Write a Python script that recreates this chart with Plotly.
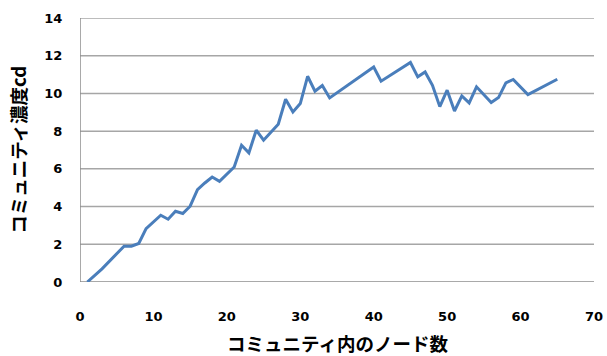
import plotly.graph_objects as go

# Number of nodes in a community vs. community density cd
node_counts = [1, 3, 6, 7, 8, 9, 11, 12, 13, 14, 15, 16, 17, 18, 19, 21, 22, 23, 24, 25,
               27, 28, 29, 30, 31, 32, 33, 34, 40, 41, 45, 46, 47, 48, 49, 50, 51, 52,
               53, 54, 56, 57, 58, 59, 61, 65]
density_cd = [0.0, 0.7, 1.9, 1.9, 2.04, 2.83, 3.54, 3.33, 3.75, 3.63, 4.02, 4.9, 5.25, 5.57,
              5.34, 6.1, 7.25, 6.85, 8.05, 7.52, 8.37, 9.69, 9.02, 9.46, 10.91, 10.12,
              10.42, 9.76, 11.4, 10.65, 11.64, 10.88, 11.14, 10.43, 9.3, 10.17, 9.07,
              9.87, 9.5, 10.35, 9.52, 9.78, 10.56, 10.74, 9.94, 10.75]

x_ticks = [0, 10, 20, 30, 40, 50, 60, 70]
y_ticks = [0, 2, 4, 6, 8, 10, 12, 14]

x_title = "コミュニティ内のノード数"
y_title = "コミュニティ濃度cd"

tick_font = dict(family="DejaVu Sans", size=13, color="#000000", weight="bold")
title_font = dict(family="Noto Sans CJK JP", size=18.5, color="#000000", weight="bold")

grid_color = "#a6a6a6"
axis_color = "#8c8c8c"

fig = go.Figure(
    go.Scatter(
        x=node_counts,
        y=density_cd,
        mode="lines",
        line=dict(color="#4a7ebb", width=3),
        showlegend=False,
    )
)

# Gridlines as thin filled bands (pixel-sized) anchored at each y tick
shapes = [
    dict(type="rect", xref="paper", yref="y", x0=0, x1=1,
         ysizemode="pixel", yanchor=v, y0=-0.75, y1=0.75,
         fillcolor=axis_color if v == y_ticks[0] else grid_color,
         line=dict(width=0), layer="below")
    for v in y_ticks
]
# Left axis as a thin filled band
shapes.append(
    dict(type="rect", xref="x", yref="paper", xsizemode="pixel", xanchor=x_ticks[0],
         x0=-0.75, x1=0.75, y0=0, y1=1,
         fillcolor=axis_color, line=dict(width=0), layer="below")
)

fig.update_layout(
    width=607,
    height=356,
    margin=dict(l=80, r=13, t=18, b=74, autoexpand=False),
    paper_bgcolor="#ffffff",
    plot_bgcolor="#ffffff",
    shapes=shapes,
    annotations=[
        dict(text=x_title, xref="paper", yref="paper", x=0.5, y=-0.232,
             xanchor="center", yanchor="middle", showarrow=False, font=title_font),
        dict(text=y_title, xref="paper", yref="paper", x=-0.121, y=0.5,
             xanchor="center", yanchor="middle", textangle=-90,
             showarrow=False, font=title_font),
    ],
)

fig.update_xaxes(
    range=[x_ticks[0], x_ticks[-1]],
    tickvals=x_ticks,
    showgrid=False,
    zeroline=False,
    showline=False,
    ticks="outside",
    ticklen=22,
    tickcolor="rgba(0,0,0,0)",
    tickfont=tick_font,
    automargin=False,
)

fig.update_yaxes(
    range=[y_ticks[0], y_ticks[-1]],
    tickvals=y_ticks,
    showgrid=False,
    zeroline=False,
    showline=False,
    ticks="outside",
    ticklen=14,
    tickcolor="rgba(0,0,0,0)",
    tickfont=tick_font,
    automargin=False,
)

fig.write_html("out.html")
